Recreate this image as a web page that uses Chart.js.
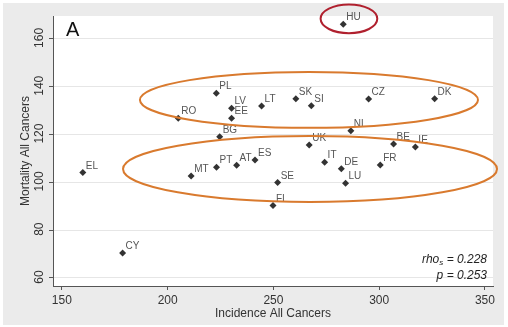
<!DOCTYPE html>
<html>
<head>
<meta charset="utf-8">
<script src="https://cdn.jsdelivr.net/npm/chart.js@4.4.1/dist/chart.umd.min.js"></script>
<style>
  html, body { margin: 0; padding: 0; background: #fff; }
  #wrap { width: 508px; height: 327px; }
</style>
</head>
<body>
<div id="wrap"><canvas id="scatter"></canvas></div>
<script>
// country codes + values
const countries = ['HU','PL','LV','EE','RO','BG','LT','SK','SI','CZ','DK','NL','UK','BE','IE',
                   'EL','CY','MT','PT','AT','ES','IT','DE','FR','SE','LU','FI'];
const incidence = [283, 223, 230.2, 230.2, 205, 224.6, 244.4, 260.6, 267.9, 295, 326.2, 286.6, 266.9, 306.8, 317.1,
                   159.9, 178.7, 211.1, 223.1, 232.6, 241.3, 274.2, 282.1, 300.5, 252, 284.1, 249.8];
const mortality = [166.2, 137.3, 131, 126.8, 126.8, 119.1, 132, 135, 132.1, 134.9, 135, 121.6, 115.6, 116.1, 114.8,
                   104.1, 70.5, 102.7, 106.3, 107.2, 109.4, 108.4, 105.7, 107.3, 99.9, 99.6, 90.3];
const xTicks = [150, 200, 250, 300, 350];
const yTicks = [60, 80, 100, 120, 140, 160];

// hand drawn rings on the original, in data units
const rings = [
  { cx: 266.8, cy: 134.5, rx: 79.9, ry: 11.7, color: '#d97a2e' },
  { cx: 267.3, cy: 105.6, rx: 88.4, ry: 13.8, color: '#d97a2e' },
  { cx: 285.7, cy: 168.4, rx: 13.4, ry: 6.0, color: '#b0202e' }
];

const points = countries.map((c, i) => ({ x: incidence[i], y: mortality[i] }));

// gray page + white plot panel
const panelBg = {
  id: 'panelBg',
  beforeDraw(chart) {
    const { ctx, chartArea: a } = chart;
    ctx.save();
    ctx.fillStyle = '#ebebeb';
    ctx.fillRect(3, 3, chart.width - 7, chart.height - 5);
    ctx.fillStyle = '#fff';
    ctx.fillRect(a.left, a.top, a.right - a.left, a.bottom - a.top);
    ctx.restore();
  }
};

const extras = {
  id: 'extras',
  afterDatasetsDraw(chart) {
    const { ctx, chartArea: a } = chart;
    const xs = chart.scales.x, ys = chart.scales.y;
    ctx.save();

    // point labels
    ctx.font = '10px "Liberation Sans", Arial, sans-serif';
    ctx.fillStyle = '#555';
    ctx.textAlign = 'left';
    ctx.textBaseline = 'alphabetic';
    countries.forEach((c, i) => {
      const px = xs.getPixelForValue(incidence[i]);
      const py = ys.getPixelForValue(mortality[i]);
      ctx.fillText(c, px + 3, py - 4);
    });

    // rings
    rings.forEach(r => {
      const cx = xs.getPixelForValue(r.cx), cy = ys.getPixelForValue(r.cy);
      const rx = Math.abs(xs.getPixelForValue(r.cx + r.rx) - cx);
      const ry = Math.abs(ys.getPixelForValue(r.cy + r.ry) - cy);
      ctx.beginPath();
      ctx.ellipse(cx, cy, rx, ry, 0, 0, Math.PI * 2);
      ctx.strokeStyle = r.color;
      ctx.lineWidth = 2;
      ctx.stroke();
    });

    // panel letter
    ctx.fillStyle = '#111';
    ctx.font = '20px "Liberation Sans", Arial, sans-serif';
    ctx.fillText('A', a.left + 13, a.top + 20);

    // y tick labels, turned like the original
    ctx.fillStyle = '#333';
    ctx.font = '12px "Liberation Sans", Arial, sans-serif';
    ctx.textAlign = 'center';
    ctx.textBaseline = 'middle';
    yTicks.forEach(v => {
      const py = ys.getPixelForValue(v);
      ctx.save();
      ctx.translate(40, py - 1);
      ctx.rotate(-Math.PI / 2);
      ctx.fillText(String(v), 0, 0);
      ctx.restore();
    });

    // stats note
    ctx.fillStyle = '#222';
    ctx.textBaseline = 'alphabetic';
    ctx.textAlign = 'left';
    const big = 'italic 12px "Liberation Sans", Arial, sans-serif';
    const small = 'italic 8px "Liberation Sans", Arial, sans-serif';
    const right = a.right - 6;
    ctx.font = big;
    const w1 = ctx.measureText('rho').width;
    const w3 = ctx.measureText(' = 0.228').width;
    ctx.font = small;
    const w2 = ctx.measureText('s').width;
    let x0 = right - (w1 + w2 + w3);
    ctx.font = big;
    ctx.fillText('rho', x0, 263);
    ctx.font = small;
    ctx.fillText('s', x0 + w1, 265);
    ctx.font = big;
    ctx.fillText(' = 0.228', x0 + w1 + w2, 263);
    ctx.textAlign = 'right';
    ctx.fillText('p = 0.253', right, 279);

    ctx.restore();
  }
};

new Chart(document.getElementById('scatter'), {
  type: 'scatter',
  data: {
    datasets: [{
      data: points,
      pointStyle: 'rectRot',
      pointRadius: 3.5,
      pointBackgroundColor: '#333',
      pointBorderColor: '#333',
      pointBorderWidth: 0
    }]
  },
  options: {
    responsive: true,
    maintainAspectRatio: false,
    animation: false,
    layout: { padding: { left: 0, top: 16, right: 15, bottom: 0 } },
    plugins: {
      legend: { display: false },
      tooltip: { enabled: false }
    },
    scales: {
      x: {
        type: 'linear',
        min: 145.8,
        max: 353.8,
        afterBuildTicks: s => { s.ticks = xTicks.map(v => ({ value: v })); },
        afterFit: s => { s.height = 41; },
        grid: { drawOnChartArea: false, drawTicks: true, tickLength: 4, tickColor: '#555' },
        border: { display: true, color: '#555', width: 1 },
        ticks: {
          color: '#333',
          padding: 3,
          font: { family: '"Liberation Sans", Arial, sans-serif', size: 12 }
        },
        title: {
          display: true,
          text: 'Incidence All Cancers',
          color: '#333',
          padding: { top: 0, bottom: 6 },
          font: { family: '"Liberation Sans", Arial, sans-serif', size: 12 }
        }
      },
      y: {
        type: 'linear',
        min: 56.65,
        max: 169.6,
        afterBuildTicks: s => { s.ticks = yTicks.map(v => ({ value: v })); },
        afterFit: s => { s.width = 53; },
        grid: { color: '#e6e6e6', drawTicks: true, tickLength: 4, tickColor: '#555' },
        border: { display: true, color: '#555', width: 1 },
        ticks: { display: false },
        title: {
          display: true,
          text: 'Mortality All Cancers',
          color: '#333',
          padding: { top: 18, bottom: 0 },
          font: { family: '"Liberation Sans", Arial, sans-serif', size: 12 }
        }
      }
    }
  },
  plugins: [panelBg, extras]
});
</script>
</body>
</html>
